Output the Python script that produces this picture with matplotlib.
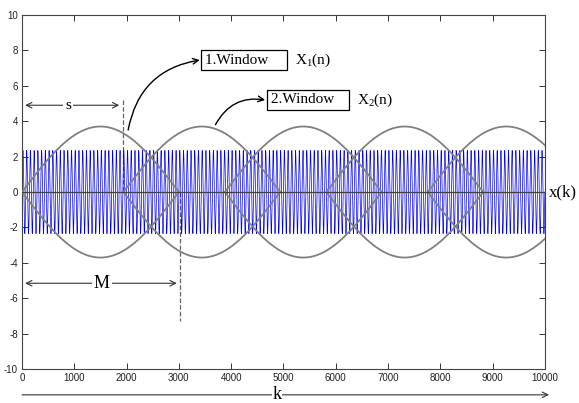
import numpy as np
import matplotlib.pyplot as plt

# window parameters
window_starts = [0, 1940, 3880, 5820, 7760]
window_len = 3000
window_amp = 3.7

# signal x(k)
k_max = 10000
carrier_amp = 2.35
carrier_cycles = 140

x_ticks = [0, 1000, 2000, 3000, 4000, 5000, 6000, 7000, 8000, 9000, 10000]
y_ticks = [-10, -8, -6, -4, -2, 0, 2, 4, 6, 8, 10]

SERIF = "Liberation Serif"


def main() -> None:
    plt.rcParams["axes.unicode_minus"] = False
    plt.rcParams["mathtext.fontset"] = "custom"
    plt.rcParams["mathtext.rm"] = SERIF
    plt.rcParams["mathtext.it"] = SERIF

    fig = plt.figure(figsize=(5.79, 4.03), dpi=100)
    ax = fig.add_axes([0.038, 0.084, 0.903, 0.879])

    k = np.linspace(0, k_max, 30001)
    sig = carrier_amp * np.sin(2 * np.pi * carrier_cycles * k / k_max)
    ax.plot(k, sig, color="#0000ff", lw=0.5, zorder=2)

    for st in window_starts:
        n = np.linspace(st, st + window_len, 400)
        w = window_amp * np.sin(np.pi * (n - st) / window_len)
        ax.plot(n, w, color="#808080", lw=1.3, zorder=3)
        ax.plot(n, -w, color="#808080", lw=1.3, zorder=3)

    ax.axhline(0, color="#404040", lw=0.9, zorder=4)

    ax.set_xlim(0, k_max)
    ax.set_ylim(-10, 10)
    ax.set_xticks(x_ticks)
    ax.set_yticks(y_ticks)
    ax.tick_params(direction="in", top=True, right=True, labelsize=7,
                   length=4, width=0.7, color="#333333", pad=3)
    for lab in ax.get_xticklabels() + ax.get_yticklabels():
        lab.set_family("Liberation Sans")
        lab.set_color("#222222")
    for sp in ax.spines.values():
        sp.set_color("#444444")
        sp.set_linewidth(0.8)

    # dashed markers for s and M
    ax.plot([1940, 1940], [5.2, 0], ls="--", color="#666666", lw=0.9, zorder=1)
    ax.plot([3030, 3030], [0, -7.3], ls="--", color="#666666", lw=0.9, zorder=1)

    arr = dict(arrowstyle="<->", color="#333333", lw=0.8, shrinkA=0, shrinkB=0)
    ax.annotate("", xy=(60, 4.9), xytext=(1860, 4.9), arrowprops=arr)
    ax.text(880, 4.9, "s", family=SERIF, fontsize=11, ha="center", va="center",
            bbox=dict(fc="white", ec="none", pad=1.5), zorder=6)
    ax.annotate("", xy=(60, -5.15), xytext=(2960, -5.15), arrowprops=arr)
    ax.text(1530, -5.15, "M", family=SERIF, fontsize=13, ha="center", va="center",
            bbox=dict(fc="white", ec="none", pad=1.5), zorder=6)

    # window labels
    ax.text(3500, 7.45, "1.Window    ", family=SERIF, fontsize=11, ha="left", va="center",
            bbox=dict(fc="white", ec="black", lw=0.9, pad=2.5), zorder=6)
    ax.text(5220, 7.45, r"X$_\mathregular{1}$(n)", family=SERIF, fontsize=11,
            ha="left", va="center")
    ax.text(4760, 5.2, "2.Window   ", family=SERIF, fontsize=11, ha="left", va="center",
            bbox=dict(fc="white", ec="black", lw=0.9, pad=2.5), zorder=6)
    ax.text(6400, 5.2, r"X$_\mathregular{2}$(n)", family=SERIF, fontsize=11,
            ha="left", va="center")

    curve = dict(arrowstyle="->", color="black", lw=1.0, shrinkA=0, shrinkB=0,
                 connectionstyle="arc3,rad=-0.35")
    ax.annotate("", xy=(3400, 7.45), xytext=(2030, 3.5), arrowprops=curve)
    ax.annotate("", xy=(4650, 5.2), xytext=(3700, 3.8), arrowprops=curve)

    # axis names
    ax.text(10080, 0, "x(k)", family=SERIF, fontsize=12, ha="left", va="center",
            clip_on=False)
    ax.annotate("", xy=(10080, -11.45), xytext=(0, -11.45),
                arrowprops=dict(arrowstyle="->", color="#333333", lw=0.8,
                                shrinkA=0, shrinkB=0),
                annotation_clip=False)
    ax.text(4880, -11.45, "k", family=SERIF, fontsize=13, ha="center", va="center",
            bbox=dict(fc="white", ec="none", pad=0.5), clip_on=False, zorder=6)

    fig.savefig("out.png", dpi=100)


if __name__ == "__main__":
    main()
